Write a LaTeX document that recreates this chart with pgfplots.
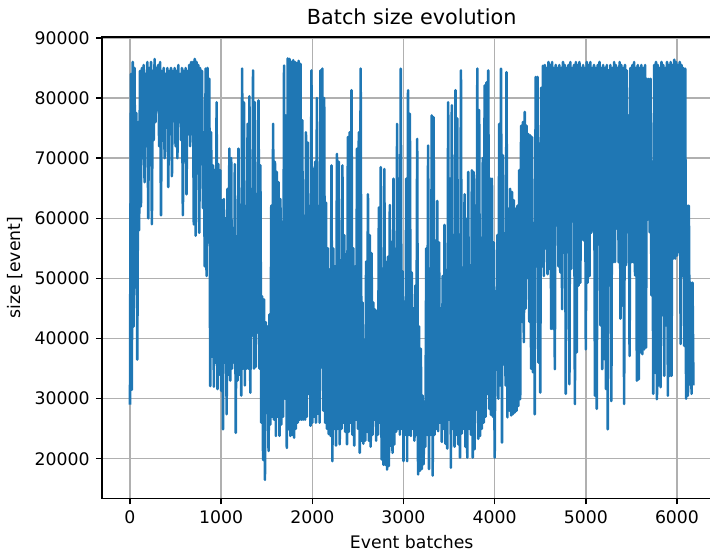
\documentclass[border=0pt]{standalone}
\usepackage{fontspec}
\setmainfont{DejaVu Sans}
\usepackage{pgfplots}
\pgfplotsset{compat=1.18}
\usepackage{pgfplotstable}
\definecolor{mplblue}{HTML}{1F77B4}
\definecolor{gridgray}{HTML}{B0B0B0}

% batch sizes, one value every 10 batches (x = 10 * row index)
\pgfplotstableread[row sep=\\]{
y\\
29000\\ 84000\\ 31500\\ 86000\\ 42000\\ 85000\\ 48500\\ 77500\\ 36500\\ 76000\\
58000\\ 84500\\ 62000\\ 85000\\ 70000\\ 85500\\ 66000\\ 84000\\ 72000\\ 86000\\
60000\\ 85000\\ 74000\\ 86000\\ 59000\\ 84500\\ 73000\\ 86500\\ 76000\\ 85000\\
78000\\ 85500\\ 72000\\ 86000\\ 60500\\ 84500\\ 75000\\ 85000\\ 70000\\ 84000\\
76000\\ 85000\\ 65200\\ 84500\\ 74000\\ 85000\\ 67000\\ 84500\\ 78000\\ 85000\\
72000\\ 84500\\ 70000\\ 85500\\ 76000\\ 84000\\ 73000\\ 85000\\ 60500\\ 84500\\
77000\\ 85000\\ 64000\\ 84500\\ 75000\\ 85500\\ 72000\\ 86000\\ 74000\\ 86000\\
59000\\ 86500\\ 57100\\ 86000\\ 68000\\ 85500\\ 57600\\ 85000\\ 69000\\ 84500\\
61700\\ 74300\\ 52000\\ 84900\\ 50400\\ 85000\\ 56000\\ 83200\\ 32100\\ 74300\\
37000\\ 68800\\ 32000\\ 68000\\ 36000\\ 79300\\ 31600\\ 69000\\ 34000\\ 68000\\
31300\\ 63000\\ 24900\\ 63200\\ 36000\\ 60000\\ 27400\\ 64900\\ 34000\\ 71600\\
33000\\ 70000\\ 35000\\ 58000\\ 36000\\ 69000\\ 24300\\ 57000\\ 33000\\ 71600\\
34000\\ 60000\\ 30500\\ 84900\\ 35000\\ 79300\\ 32200\\ 62000\\ 35000\\ 75700\\
35000\\ 80300\\ 31000\\ 60000\\ 40500\\ 84600\\ 35000\\ 79300\\ 35300\\ 58000\\
41000\\ 79600\\ 35000\\ 68800\\ 26000\\ 47000\\ 19800\\ 46500\\ 16500\\ 42700\\
30500\\ 42000\\ 21300\\ 44000\\ 25700\\ 62100\\ 27000\\ 75700\\ 26500\\ 69400\\
23800\\ 67700\\ 27000\\ 66000\\ 23800\\ 63200\\ 25700\\ 59400\\ 27000\\ 85400\\
30000\\ 77100\\ 21800\\ 86600\\ 24900\\ 86500\\ 23800\\ 86000\\ 24000\\ 86300\\
23500\\ 86000\\ 25000\\ 85800\\ 26000\\ 86200\\ 26500\\ 85700\\ 26500\\ 76300\\
26500\\ 60400\\ 26500\\ 74300\\ 27000\\ 72600\\ 30800\\ 62000\\ 25500\\ 84600\\
26000\\ 68200\\ 27000\\ 69400\\ 26000\\ 80000\\ 27500\\ 62000\\ 26000\\ 84600\\
35200\\ 84900\\ 28000\\ 80000\\ 26000\\ 62600\\ 25000\\ 55000\\ 24100\\ 51500\\
23800\\ 68800\\ 19600\\ 55000\\ 25000\\ 52000\\ 22200\\ 70700\\ 25000\\ 69400\\
22400\\ 53000\\ 25000\\ 68800\\ 26000\\ 57200\\ 24500\\ 54000\\ 22400\\ 73500\\
24500\\ 74300\\ 26000\\ 81300\\ 24000\\ 55000\\ 22200\\ 52000\\ 26500\\ 71600\\
25000\\ 74300\\ 21000\\ 84900\\ 23000\\ 46000\\ 22500\\ 38300\\ 23000\\ 52800\\
24500\\ 64000\\ 23000\\ 57200\\ 22000\\ 54200\\ 24000\\ 46000\\ 26500\\ 44800\\
23000\\ 44500\\ 24000\\ 61800\\ 26000\\ 68500\\ 19900\\ 48000\\ 19000\\ 68200\\
19000\\ 52700\\ 18200\\ 53600\\ 18800\\ 62200\\ 22200\\ 56000\\ 21000\\ 66600\\
22400\\ 48000\\ 24500\\ 75700\\ 25000\\ 66600\\ 24000\\ 84900\\ 25000\\ 51200\\
19600\\ 46000\\ 24000\\ 66600\\ 19600\\ 81300\\ 24000\\ 77400\\ 23800\\ 51000\\
25000\\ 45000\\ 23000\\ 48800\\ 24000\\ 73200\\ 17400\\ 42000\\ 18000\\ 38300\\
18300\\ 30500\\ 19100\\ 29000\\ 22000\\ 55000\\ 24000\\ 72100\\ 18300\\ 46000\\
24000\\ 77100\\ 17200\\ 76800\\ 24000\\ 56300\\ 25000\\ 62900\\ 24600\\ 56000\\
26000\\ 45000\\ 22800\\ 50400\\ 25000\\ 58900\\ 22500\\ 46100\\ 21700\\ 79300\\
26500\\ 66600\\ 18500\\ 78800\\ 25000\\ 57200\\ 22000\\ 81300\\ 24000\\ 76600\\
22400\\ 57200\\ 20200\\ 84600\\ 24200\\ 50000\\ 25000\\ 64000\\ 22000\\ 59900\\
20200\\ 67700\\ 25000\\ 50000\\ 24000\\ 68000\\ 20200\\ 67700\\ 21600\\ 62100\\
28200\\ 84900\\ 23300\\ 78000\\ 23800\\ 54300\\ 25000\\ 70000\\ 26000\\ 82100\\
27000\\ 82600\\ 30800\\ 84600\\ 28300\\ 66600\\ 27300\\ 66600\\ 27000\\ 56000\\
20200\\ 44500\\ 34900\\ 57200\\ 30000\\ 75700\\ 32200\\ 84900\\ 22700\\ 70500\\
35700\\ 57100\\ 32200\\ 84300\\ 26900\\ 61600\\ 28000\\ 64900\\ 27200\\ 64400\\
27400\\ 63000\\ 27700\\ 61600\\ 28000\\ 62100\\ 28800\\ 68000\\ 29900\\ 75400\\
42800\\ 76000\\ 39400\\ 77700\\ 45000\\ 75400\\ 50100\\ 74000\\ 42800\\ 73800\\
35000\\ 73500\\ 34400\\ 57800\\ 27400\\ 83500\\ 52000\\ 83500\\ 36000\\ 72400\\
31000\\ 81700\\ 52000\\ 85400\\ 50400\\ 85500\\ 55000\\ 85000\\ 50700\\ 86000\\
51600\\ 85500\\ 41600\\ 86000\\ 41600\\ 85000\\ 34900\\ 85500\\ 61600\\ 85000\\
52000\\ 85500\\ 51000\\ 85000\\ 44900\\ 86000\\ 54300\\ 85500\\ 30800\\ 85000\\
57000\\ 85500\\ 32400\\ 86000\\ 51600\\ 85000\\ 68200\\ 85500\\ 29100\\ 86000\\
37700\\ 85500\\ 48800\\ 86000\\ 49300\\ 85000\\ 56500\\ 85500\\ 56300\\ 85000\\
38200\\ 86000\\ 49300\\ 85500\\ 50400\\ 86000\\ 57600\\ 85000\\ 58000\\ 85500\\
30500\\ 85000\\ 28300\\ 85500\\ 58000\\ 86000\\ 42200\\ 85000\\ 34900\\ 85500\\
36600\\ 85000\\ 31600\\ 85500\\ 24900\\ 84600\\ 52200\\ 85500\\ 29600\\ 85000\\
52700\\ 86000\\ 52700\\ 85500\\ 58300\\ 85000\\ 52700\\ 86000\\ 43300\\ 85500\\
45500\\ 85000\\ 29100\\ 85500\\ 52200\\ 84600\\ 57700\\ 77100\\ 37100\\ 85000\\
52700\\ 85500\\ 52700\\ 86000\\ 50500\\ 85000\\ 33000\\ 85500\\ 33200\\ 85000\\
37700\\ 85500\\ 37400\\ 85000\\ 38200\\ 85500\\ 38500\\ 83200\\ 59800\\ 83200\\
57700\\ 83200\\ 47200\\ 69400\\ 30800\\ 85500\\ 34300\\ 86000\\ 29900\\ 85500\\
32200\\ 85000\\ 31900\\ 86000\\ 43900\\ 85500\\ 33800\\ 85000\\ 42200\\ 86000\\
30500\\ 85500\\ 33800\\ 86000\\ 33800\\ 85500\\ 53300\\ 86400\\ 53300\\ 86000\\
53800\\ 85500\\ 54400\\ 86000\\ 39100\\ 85500\\ 50400\\ 85000\\ 38800\\ 84900\\
30000\\ 62100\\ 30500\\ 62100\\ 32400\\ 49300\\ 30800\\ 49300\\ 32200\\
}\batchdata

\begin{document}
\begin{tikzpicture}
\path[use as bounding box] (-58.9pt,-32.0pt) rectangle (351.8pt,288.3pt);
\begin{axis}[
  at={(0pt,0pt)}, anchor=south west,
  scale only axis, width=358.5pt, height=267pt,
  xmin=-309, xmax=6489, ymin=13410, ymax=90190,
  xtick={0,1000,2000,3000,4000,5000,6000},
  ytick={20000,30000,40000,50000,60000,70000,80000,90000},
  scaled ticks=false,
  /pgf/number format/1000 sep={},
  /pgf/number format/assume math mode=true,
  xtick pos=lower, ytick pos=left,
  tick align=outside, major tick length=3.5pt,
  tick style={black, line width=0.8pt},
  axis line style={line width=0.8pt},
  grid=major, major grid style={gridgray, line width=0.8pt},
  ticklabel style={font=\fontsize{10}{12}\selectfont},
  title={Batch size evolution},
  title style={font=\fontsize{12}{14}\selectfont, at={(axis description cs:0.5,1)}, anchor=base, yshift=1.3pt},
  xlabel={Event batches}, ylabel={size [event]},
  label style={font=\fontsize{10}{12}\selectfont},
]
\addplot[mplblue, line width=1.5pt, line join=round] table[x expr=\coordindex*10, y=y] {\batchdata};
\end{axis}
\end{tikzpicture}
\end{document}
